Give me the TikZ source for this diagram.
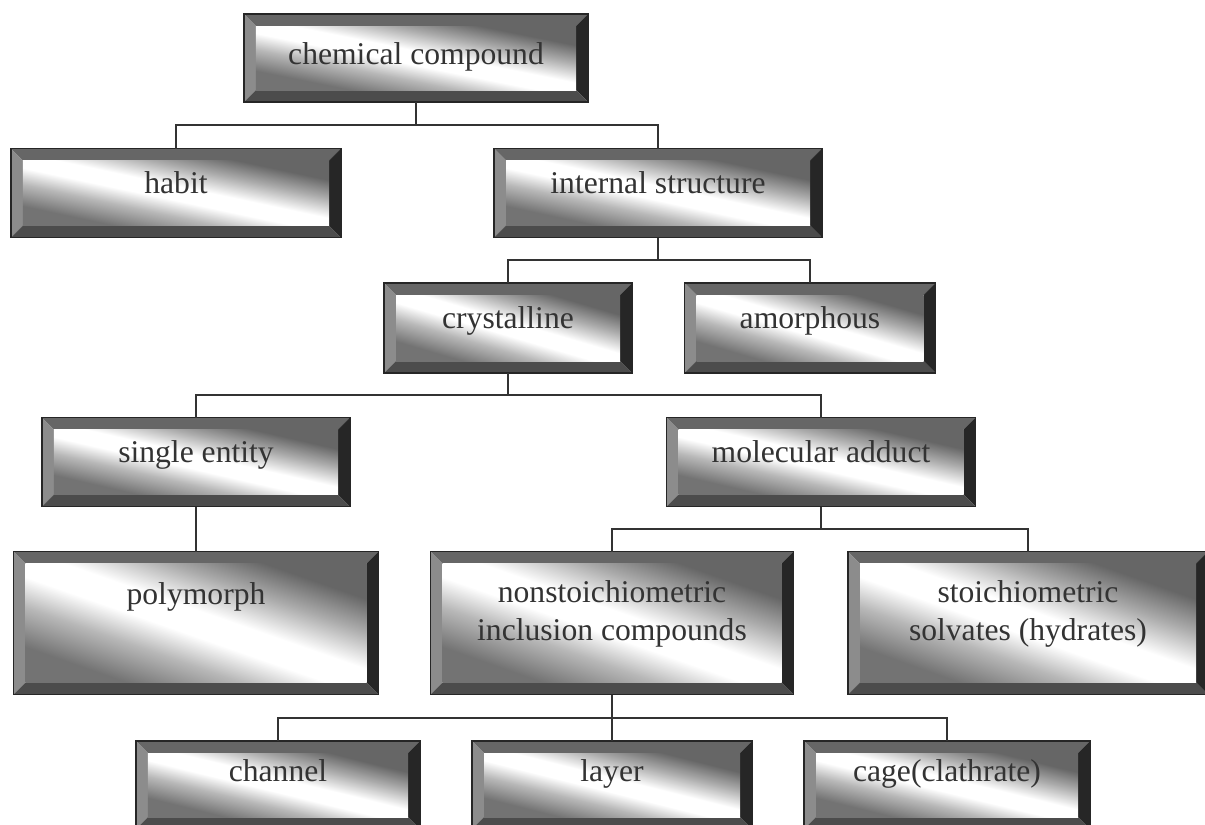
\documentclass[tikz,border=0pt]{standalone}
\usepackage{fontspec}
\setmainfont{Liberation Serif}
\usepackage{tikz}
\usetikzlibrary{calc}

\pgfdeclarehorizontalshading{bevelshade}{100bp}{color(0bp)=(black!55); color(25bp)=(black!55); color(37bp)=(black!28); color(46bp)=(white); color(54bp)=(white); color(65bp)=(black!33); color(75bp)=(black!60); color(100bp)=(black!60)}
\newcommand\boxfont{\fontsize{18}{21.6}\selectfont}
\newcommand\bevelpic{%
  \path (path picture bounding box.north west) ++(0.24cm,-0.24cm) coordinate (bi)
        (path picture bounding box.south east) ++(-0.24cm,0.24cm) coordinate (bo);
  \fill[black!60] (path picture bounding box.north west) -- (path picture bounding box.north east) -- (bi -| bo) -- (bi) -- cycle;
  \fill[black!45] (path picture bounding box.north west) -- (bi) -- (bo -| bi) -- (path picture bounding box.south west) -- cycle;
  \fill[black!85] (path picture bounding box.north east) -- (path picture bounding box.south east) -- (bo) -- (bi -| bo) -- cycle;
  \fill[black!70] (path picture bounding box.south west) -- (bo -| bi) -- (bo) -- (path picture bounding box.south east) -- cycle;
  \pgfpointanchor{bi}{center}\pgfgetlastxy{\bevax}{\bevay}
  \pgfpointanchor{bo}{center}\pgfgetlastxy{\bevbx}{\bevby}
  \pgfmathsetmacro\bevw{(\bevbx-\bevax)/1cm}
  \pgfmathsetmacro\bevh{(\bevay-\bevby)/1cm}
  \begin{scope}
    \pgflowlevelsynccm
    \pgflowlevel{\pgftransformcm{\bevw}{0}{0}{\bevh}{\pgfpoint{\bevax}{\bevby}}}
    \shade[shading=bevelshade, shading angle=45] (0,0) rectangle (1cm,1cm);
  \end{scope}
}
\tikzset{
  bevelbox/.style={draw=black!85, line width=1pt, inner sep=0pt, outer sep=0pt, align=center, font=\boxfont, text=black!80, text height=12.2pt, text depth=11.3pt, path picture={\bevelpic}},
  twoline/.style={text height=33.8pt, text depth=13.6pt},
  sz/.style 2 args={minimum width=#1*0.02cm, minimum height=#2*0.02cm},
  treeline/.style={draw=black!80, line width=1.1pt},
  elbow/.style={to path={(\tikztostart) |- ($(\tikztostart)!.5!(\tikztotarget)$) -| (\tikztotarget)}}
}

\begin{document}
\begin{tikzpicture}[x=0.02cm, y=-0.02cm]
\useasboundingbox (0,0) rectangle (1205,825);
\clip (0,0) rectangle (1205,825);
\fill[white] (0,0) rectangle (1205,825);
\node[bevelbox, sz={344}{88}, text depth=4.5pt] (chem) at (416,58) {chemical compound};
\node[bevelbox, sz={330}{89}] (habit) at (176,193) {habit};
\node[bevelbox, sz={328}{89}] (inner) at (658,193) {internal structure};
\node[bevelbox, sz={248}{90}] (cryst) at (508,328) {crystalline};
\node[bevelbox, sz={251}{90}] (amorph) at (810,328) {amorphous};
\node[bevelbox, sz={308}{89}] (single) at (196,462) {single entity};
\node[bevelbox, sz={309}{89}] (adduct) at (821,462) {molecular adduct};
\node[bevelbox, sz={365}{143}, text depth=32.9pt] (poly) at (196,623) {polymorph};
\node[bevelbox, twoline, sz={363}{143}] (nonstoich) at (612,623) {nonstoichiometric\\inclusion compounds};
\node[bevelbox, twoline, sz={360}{143}] (stoich) at (1028,623) {stoichiometric\\solvates (hydrates)};
\node[bevelbox, sz={284}{88}, text depth=15.9pt] (channel) at (278,785) {channel};
\node[bevelbox, sz={280}{88}, text depth=15.9pt] (layer) at (612,785) {layer};
\node[bevelbox, sz={286}{88}, text depth=15.9pt] (cage) at (947,785) {cage(clathrate)};

\draw[treeline] (chem.south) to[elbow] (habit.north) (chem.south) to[elbow] (inner.north);
\draw[treeline] (inner.south) to[elbow] (cryst.north) (inner.south) to[elbow] (amorph.north);
\draw[treeline] (cryst.south) to[elbow] (single.north) (cryst.south) to[elbow] (adduct.north);
\draw[treeline] (single.south) -- (poly.north);
\draw[treeline] (adduct.south) to[elbow] (nonstoich.north) (adduct.south) to[elbow] (stoich.north);
\draw[treeline] (nonstoich.south) to[elbow] (channel.north) (nonstoich.south) to[elbow] (layer.north) (nonstoich.south) to[elbow] (cage.north);
\end{tikzpicture}
\end{document}
